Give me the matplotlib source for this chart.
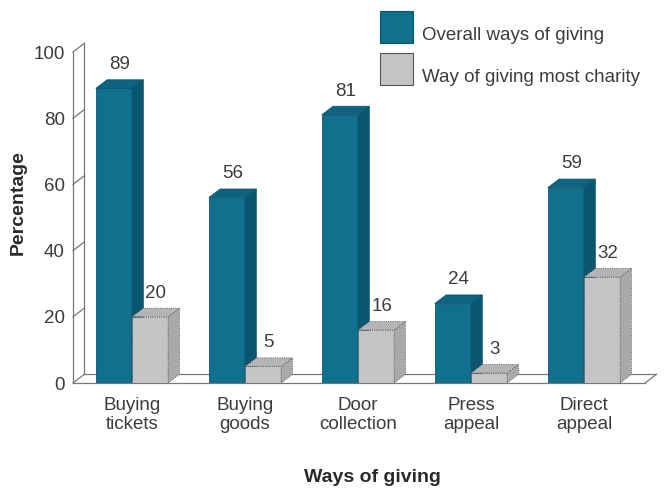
import matplotlib.pyplot as plt
from matplotlib.patches import Polygon, Rectangle

categories = ['Buying\ntickets', 'Buying\ngoods', 'Door\ncollection', 'Press\nappeal', 'Direct\nappeal']
overall = [89, 56, 81, 24, 59]
most_charity = [20, 5, 16, 3, 32]
series_names = ['Overall ways of giving', 'Way of giving most charity']

plt.rcParams['font.family'] = ['Liberation Sans', 'DejaVu Sans']
txt = '#3c3c3c'
fs = 13.5

# colours: front, side, top
blue = ('#10708d', '#0a5670', '#0d6380')
grey = ('#c4c4c6', '#a9a9ab', '#b4b4b6')

W, H = 665, 491
fig = plt.figure(figsize=(W / 100, H / 100), dpi=100)
ax = fig.add_axes([73 / W, (H - 383) / H, (W - 73) / W, 353 / H])
x0, x1 = (73 - 132) / 113, (W - 132) / 113
ax.set_xlim(x0, x1)
ax.set_ylim(0, 353 / 3.31)
for s in ax.spines.values():
    s.set_visible(False)

dx, dy = 0.1, 2.6
bw = 0.32
line = dict(color='#777777', lw=0.9, clip_on=False, zorder=1)

# wall and floor
ax.plot([x0, x0], [0, 100], **line)
ax.plot([x0 + dx, x0 + dx], [dy, 100 + dy], **line)
for v in range(0, 101, 20):
    ax.plot([x0, x0 + dx], [v, v + dy], **line)
xr = (645 - 132) / 113
ax.plot([x0, xr], [0, 0], **line)
ax.plot([x0 + dx, xr + dx], [dy, dy], **line)
ax.plot([xr, xr + dx], [0, dy], **line)


def bar3d(left, h, cols, ls):
    ec = '#444444' if ls == ':' else cols[1]
    ax.bar(left, h, width=bw, align='edge', color=cols[0], edgecolor=ec, lw=0.6, ls=ls, zorder=3)
    side = [(left + bw, 0), (left + bw + dx, dy), (left + bw + dx, h + dy), (left + bw, h)]
    top = [(left, h), (left + dx, h + dy), (left + bw + dx, h + dy), (left + bw, h)]
    ax.add_patch(Polygon(side, closed=True, fc=cols[1], ec=ec, lw=0.6, ls=ls, zorder=3))
    ax.add_patch(Polygon(top, closed=True, fc=cols[2], ec=ec, lw=0.6, ls=ls, zorder=3))
    ax.text(left + bw / 2 + dx / 2, h + dy + 2, str(h), ha='center', va='bottom',
            fontsize=fs, color=txt, zorder=4)


for i in range(len(categories)):
    bar3d(i - bw, overall[i], blue, '-')
    bar3d(i, most_charity[i], grey, ':')

ax.set_yticks(range(0, 101, 20))
ax.set_yticklabels([str(v) for v in range(0, 101, 20)], fontsize=fs, color=txt)
ax.set_xticks(range(len(categories)))
ax.set_xticklabels(categories, fontsize=fs, color=txt, linespacing=1.2)
ax.tick_params(length=0, pad=6)
ax.tick_params(axis='x', pad=10)
ax.set_xlabel('Ways of giving', fontsize=14, color='#2a2a2a', fontweight='semibold', va='center')
ax.xaxis.set_label_coords((372 - 73) / (W - 73), -(478 - 383) / 353)
ax.set_ylabel('Percentage', fontsize=14, color='#2a2a2a', fontweight='semibold', va='center')
ax.yaxis.set_label_coords(-(73 - 18) / (W - 73), (383 - 203) / 353)

# legend
for k, (name, cols) in enumerate(zip(series_names, [blue, grey])):
    top = 11 + k * 42
    fig.patches.append(Rectangle((380 / W, (H - top - 32) / H), 33 / W, 32 / H, transform=fig.transFigure,
                                 fc=cols[0], ec='#555555' if k else cols[1], lw=0.8))
    fig.text(422 / W, (H - top - 24) / H, name, fontsize=fs, color=txt, va='center', ha='left')

fig.savefig('out.png', dpi=100)
